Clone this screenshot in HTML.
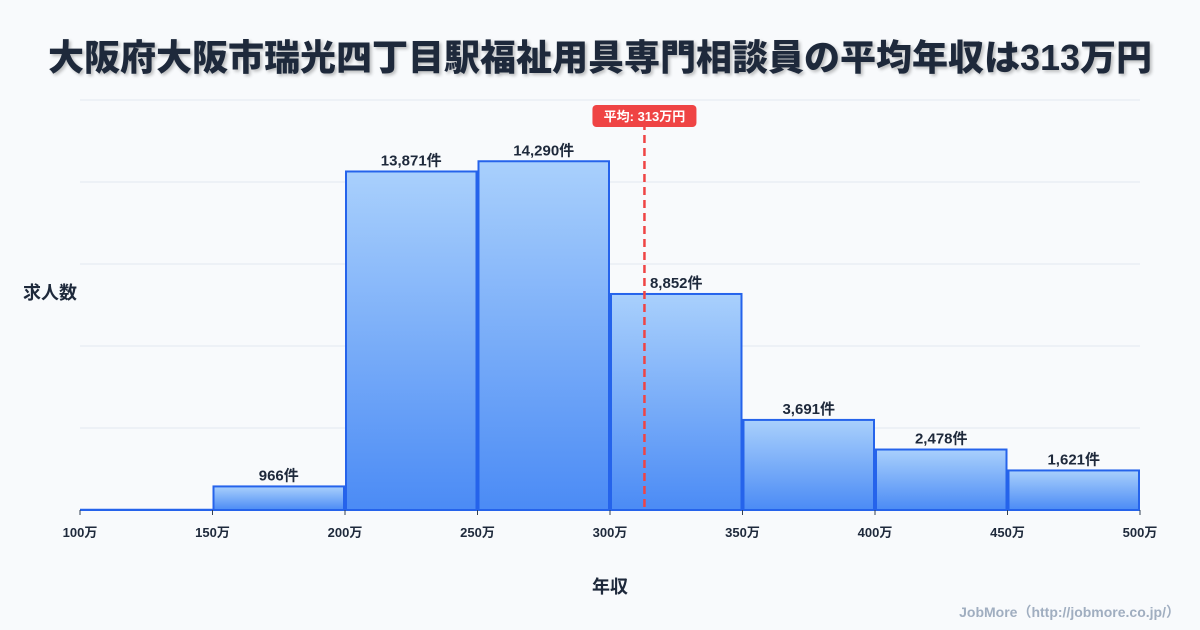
<!DOCTYPE html>
<html><head><meta charset="utf-8"><style>
body{margin:0;width:1200px;height:630px;background:#f8fafc;font-family:"Liberation Sans","Noto Sans CJK JP",sans-serif;overflow:hidden}
#title{position:absolute;left:0;top:29px;width:1200px;text-align:center;font-size:36px;font-weight:900;color:#1e293b;text-shadow:2px 2px 3px rgba(0,0,0,0.25);letter-spacing:0px}
svg{position:absolute;left:0;top:0}
</style></head><body>
<div id="title">大阪府大阪市瑞光四丁目駅福祉用具専門相談員の平均年収は313万円</div>
<svg id="chart" width="1200" height="630">
<defs><linearGradient id="g" x1="0" y1="0" x2="0" y2="1"><stop offset="0" stop-color="#a9d0fc"/><stop offset="1" stop-color="#4b8bf5"/></linearGradient></defs>
</svg>
<script>
const binStarts=[100,150,200,250,300,350,400,450];
const binWidth=50;
const counts=[10,966,13871,14290,8852,3691,2478,1621];
const tickLabels=[100,150,200,250,300,350,400,450,500];
const average=313;
const yMax=16800;
const X0=80,X1=1140,Y0=510,Y1=100;
const xs=v=>X0+(v-100)/400*(X1-X0);
const ys=v=>Y0-v/yMax*(Y0-Y1);
const svg=document.getElementById('chart');
const NS='http://www.w3.org/2000/svg';
function mk(t,a,p){const e=document.createElementNS(NS,t);for(const k in a)e.setAttribute(k,a[k]);(p||svg).appendChild(e);return e;}
for(let i=0;i<=5;i++){const y=Y1+i*(Y0-Y1)/5;const l=mk('line',{x1:X0,x2:X1,y1:y,y2:y,stroke:'#e2e8f0','stroke-width':1});

}
counts.forEach((c,i)=>{const x=xs(binStarts[i])+1,w=xs(binStarts[i]+binWidth)-xs(binStarts[i])-2;const y=ys(c);
const r=mk('rect',{x:x,y:y,width:w,height:Y0-y,fill:'url(#g)',stroke:'#2563eb','stroke-width':2});


if(c>100){const t=mk('text',{x:x+w/2,y:y-6,'text-anchor':'middle','font-size':15,'font-weight':'bold',fill:'#1e293b'});t.textContent=c.toLocaleString('en-US')+'件';

}
});
tickLabels.forEach(v=>{const x=xs(v);mk('line',{x1:x,x2:x,y1:Y0,y2:Y0+5,stroke:'#334155','stroke-width':1});
const t=mk('text',{x:x,y:Y0+27,'text-anchor':'middle','font-size':13,'font-weight':'bold',fill:'#1e293b'});t.textContent=v+'万';

});
const ax=xs(average);
const al=mk('line',{x1:ax,x2:ax,y1:122,y2:Y0,stroke:'#ef4444','stroke-width':2.5,'stroke-dasharray':'8,5'});


const ab=mk('rect',{x:ax-52,y:105,width:104,height:22,rx:4,fill:'#ef4444'});


const at=mk('text',{x:ax,y:121,'text-anchor':'middle','font-size':13,'font-weight':'bold',fill:'#fff'});at.textContent='平均: '+average+'万円';


const yt=mk('text',{x:50,y:299,'text-anchor':'middle','font-size':18,'font-weight':'bold',fill:'#1e293b'});yt.textContent='求人数';


const xt=mk('text',{x:610,y:593,'text-anchor':'middle','font-size':18,'font-weight':'bold',fill:'#1e293b'});xt.textContent='年収';


const ft=mk('text',{x:1180,y:617,'text-anchor':'end','font-size':14,'font-weight':'bold',fill:'#a0aec0'});ft.textContent='JobMore（http://jobmore.co.jp/）';


</script>
</body></html>
